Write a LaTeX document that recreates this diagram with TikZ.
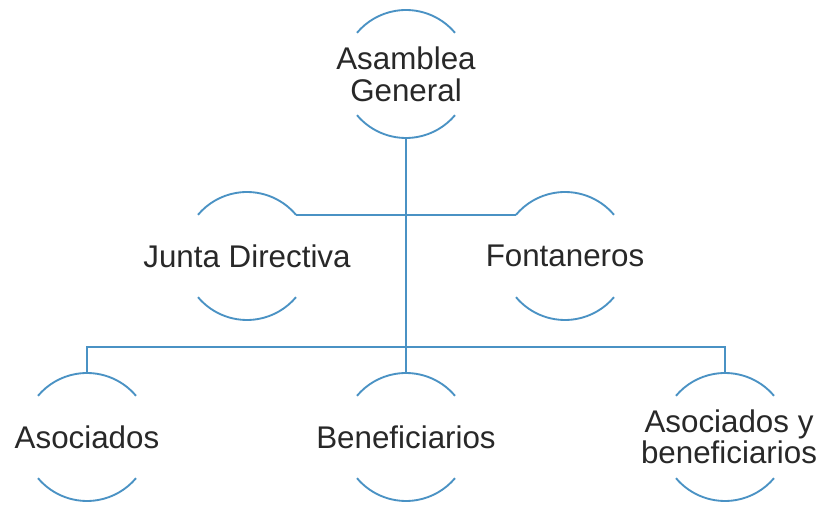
\documentclass[tikz,border=0pt]{standalone}
\usepackage{fontspec}
\setmainfont{Liberation Sans}
\definecolor{linkblue}{RGB}{74,146,196}
\definecolor{inkgray}{RGB}{40,40,40}
\tikzset{
  ring/.style={circle, minimum size=96pt, inner sep=0pt, outer sep=0pt},
  caption/.style={text=inkgray, align=center, inner sep=0pt, font=\fontsize{23.5}{24}\selectfont},
  link/.style={draw=linkblue, line width=1.4pt},
}
\begin{document}
\begin{tikzpicture}[x=0.75pt, y=-0.75pt]
    \useasboundingbox (0,0) rectangle (819,505);
    \fill[white] (0,0) rectangle (819,505);

    % circles
    \node[ring] (ag) at (406,74) {};
    \node[ring] (jd) at (247,256) {};
    \node[ring] (fo) at (565,256) {};
    \node[ring] (as) at (87,437) {};
    \node[ring] (be) at (406,437) {};
    \node[ring] (ay) at (725,437) {};

    % texts
    \node[caption] (agt) at (ag) {Asamblea\\General};
    \node[caption] (jdt) at (jd) {Junta Directiva};
    \node[caption] (fot) at (fo) {Fontaneros};
    \node[caption] (ast) at (as) {Asociados};
    \node[caption] (bet) at (be) {Beneficiarios};
    \node[caption, font=\fontsize{23.5}{21}\selectfont] (ayt) at ([xshift=3]ay) {Asociados y\\beneficiarios};

    \foreach \n in {ag,jd,fo,as,be,ay} {
        \draw[link] (\n.40) arc[start angle=40, end angle=140, radius=48pt];
        \draw[link] (\n.220) arc[start angle=220, end angle=320, radius=48pt];
    }

    \coordinate (bus) at (406,347);
    \draw[link] (jd.40) -- (fo.140);
    \draw[link] (ag.south) -- (ag.south |- bus);
    \draw[link] (as.north) -- (as.north |- bus) -- (ay.north |- bus) -- (ay.north);
    \draw[link] (be.north) -- (be.north |- bus);
\end{tikzpicture}
\end{document}
